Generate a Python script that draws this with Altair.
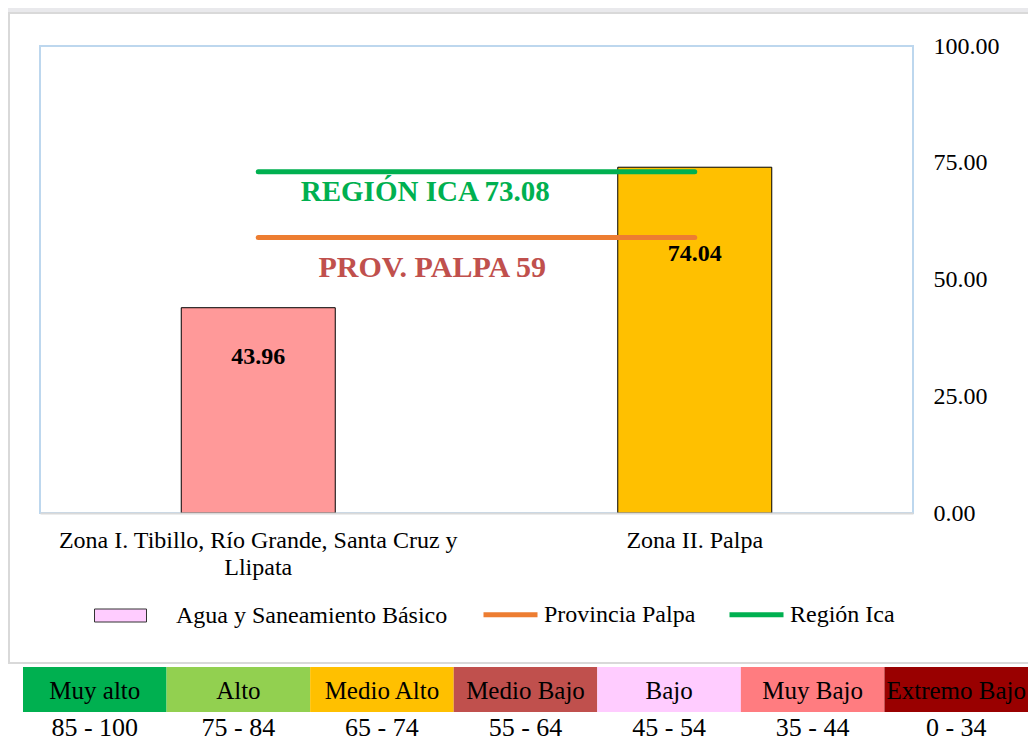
import altair as alt
import pandas as pd

SERIF = "Liberation Serif"

# ---- data ----
zonas = ["Zona I. Tibillo, Río Grande, Santa Cruz y\nLlipata", "Zona II. Palpa"]
valores = [43.96, 74.04]
colores_barras = ["#FF9999", "#FFC000"]
serie_barras = "Agua y Saneamiento Básico"
color_serie_barras = "#FFCCFF"

prov_palpa = 59
region_ica = 73.08
series_ref = ["Provincia Palpa", "Región Ica"]
colores_ref = ["#ED7D31", "#00B050"]

niveles = ["Muy alto", "Alto", "Medio Alto", "Medio Bajo", "Bajo", "Muy Bajo", "Extremo Bajo"]
rangos = ["85 - 100", "75 - 84", "65 - 74", "55 - 64", "45 - 54", "35 - 44", "0 - 34"]
colores_niveles = ["#00B050", "#92D050", "#FFC000", "#C0504D", "#FFCCFF", "#FF7C80", "#990000"]

y_ticks = [0, 25, 50, 75, 100]

# ---- tables ----
df_bars = pd.DataFrame({"zona": zonas, "valor": valores})
df_leg = pd.DataFrame({"zona": [zonas[0]], "valor": [0.0], "serie": [serie_barras]})
df_lines = pd.DataFrame({
    "serie": [series_ref[0]] * 2 + [series_ref[1]] * 2,
    "zona": zonas + zonas,
    "valor": [prov_palpa] * 2 + [region_ica] * 2,
})
df_ref_lbl = pd.DataFrame({
    "serie": series_ref,
    "zona": [zonas[0], zonas[0]],
    "valor": [prov_palpa, region_ica],
    "texto": [f"PROV. PALPA {prov_palpa}", f"REGIÓN ICA {region_ica}"],
})
df_tabla = pd.DataFrame({"nivel": niveles, "rango": rangos, "color": colores_niveles})

# ---- main chart ----
x_enc = alt.X(
    "zona:N", sort=zonas,
    scale=alt.Scale(domain=zonas, paddingInner=0, paddingOuter=0),
    axis=alt.Axis(title=None, labelAngle=0, labelExpr="split(datum.label, '\\n')",
                  labelFont=SERIF, labelFontSize=24, labelColor="black",
                  labelLineHeight=27, labelPadding=15, ticks=False,
                  domainColor="#D9D9D9", domainWidth=2, labelLimit=0, zindex=1),
)
y_enc = alt.Y(
    "valor:Q",
    scale=alt.Scale(domain=[0, 100], nice=False, zero=True),
    axis=alt.Axis(title=None, orient="right", values=y_ticks, format=".2f",
                  grid=False, ticks=False, domain=False, labelPadding=20,
                  labelFont=SERIF, labelFontSize=24, labelColor="black", zindex=1),
)

bars = alt.Chart(df_bars).mark_bar(size=154, stroke="black", strokeWidth=1).encode(
    x=x_enc, y=y_enc,
    color=alt.Color("zona:N", scale=alt.Scale(domain=zonas, range=colores_barras), legend=None),
)

leg_bar = alt.Chart(df_leg).mark_bar(size=1, strokeWidth=0, opacity=0).encode(
    x=x_enc, y=y_enc,
    fill=alt.Fill("serie:N", scale=alt.Scale(domain=[serie_barras], range=[color_serie_barras]),
                  legend=alt.Legend(title=None, orient="none", legendX=54, legendY=543,
                                    symbolType="M-1,-0.25H1V0.25H-1Z", symbolSize=2704,
                                    symbolOpacity=1, symbolStrokeColor="#333333",
                                    symbolStrokeWidth=1, labelOffset=29,
                                    labelFont=SERIF, labelFontSize=24, labelColor="black",
                                    labelLimit=0)),
)

lines = alt.Chart(df_lines).mark_line(strokeWidth=5, strokeCap="round").encode(
    x=x_enc, y=y_enc,
    stroke=alt.Stroke("serie:N", scale=alt.Scale(domain=series_ref, range=colores_ref),
                      legend=alt.Legend(title=None, orient="none", legendX=441, legendY=539,
                                        direction="horizontal", symbolType="stroke",
                                        symbolSize=2916, symbolStrokeWidth=5,
                                        labelOffset=4, columnPadding=23,
                                        labelFont=SERIF, labelFontSize=24,
                                        labelColor="black", labelLimit=0)),
)

lbl_region = alt.Chart(df_ref_lbl).transform_filter(
    alt.datum.serie == series_ref[1]
).mark_text(font=SERIF, fontSize=29, fontWeight="bold", color="#00B050",
            dx=167, dy=20, baseline="middle").encode(x=x_enc, y=y_enc, text="texto:N")

lbl_prov = alt.Chart(df_ref_lbl).transform_filter(
    alt.datum.serie == series_ref[0]
).mark_text(font=SERIF, fontSize=30, fontWeight="bold", color="#C0504D",
            dx=174, dy=31, baseline="middle").encode(x=x_enc, y=y_enc, text="texto:N")

lbl_bar1 = alt.Chart(df_bars).transform_filter(
    alt.datum.zona == zonas[0]
).mark_text(font=SERIF, fontSize=24, fontWeight="bold", color="black",
            dy=49, baseline="middle").encode(x=x_enc, y=y_enc, text=alt.Text("valor:Q", format=".2f"))

lbl_bar2 = alt.Chart(df_bars).transform_filter(
    alt.datum.zona == zonas[1]
).mark_text(font=SERIF, fontSize=24, fontWeight="bold", color="black",
            dy=87, baseline="middle").encode(x=x_enc, y=y_enc, text=alt.Text("valor:Q", format=".2f"))

main = alt.layer(bars, leg_bar, lines, lbl_region, lbl_prov, lbl_bar1, lbl_bar2)

# ---- legend table of levels ----
tx = alt.X("nivel:N", sort=niveles,
           scale=alt.Scale(domain=niveles, range=[-17, 988], paddingInner=0, paddingOuter=0),
           axis=None)
ty_scale = alt.Scale(domain=["nivel", "rango"], range=[621, 711], paddingInner=0, paddingOuter=0)

t_rect = alt.Chart(df_tabla).transform_calculate(fila="'nivel'").mark_rect().encode(
    x=tx, y=alt.Y("fila:N", scale=ty_scale, axis=None),
    color=alt.Color("color:N", scale=None),
)
t_niv = alt.Chart(df_tabla).transform_calculate(fila="'nivel'").mark_text(
    font=SERIF, fontSize=25, color="black", baseline="middle", dy=1
).encode(x=tx, y=alt.Y("fila:N", scale=ty_scale, axis=None), text="nivel:N")
t_rng = alt.Chart(df_tabla).transform_calculate(fila="'rango'").mark_text(
    font=SERIF, fontSize=26, color="black", baseline="middle", dy=-7
).encode(x=tx, y=alt.Y("fila:N", scale=ty_scale, axis=None), text="rango:N")

tabla = alt.layer(t_rect, t_niv, t_rng)

# ---- outer frame and top strip (decoration) ----
frame = alt.Chart(pd.DataFrame({"k": [0]})).mark_rect(
    fillOpacity=0, stroke="#D9D9D9", strokeWidth=2
).encode(x=alt.value(-31), x2=alt.value(1000), y=alt.value(-33), y2=alt.value(617))
strip = alt.Chart(pd.DataFrame({"k": [0]})).mark_rect(
    fill="#E9E9EC", strokeWidth=0
).encode(x=alt.value(-32), x2=alt.value(990), y=alt.value(-38), y2=alt.value(-34))

chart = alt.layer(strip, frame, main, tabla).resolve_scale(
    x="independent", y="independent", color="independent"
).properties(
    width=873, height=467,
    autosize=alt.AutoSizeParams(type="none"),
    padding={"left": 32, "top": 38, "right": 115, "bottom": 228},
    background="white",
).configure_view(stroke="#BDD7EE", strokeWidth=2)

chart.save("out.html", embed_options={"renderer": "svg", "actions": False})
